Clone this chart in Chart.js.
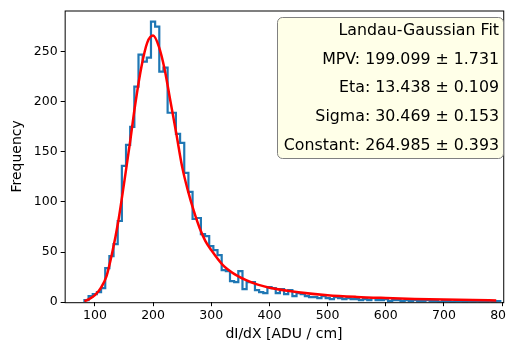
<!DOCTYPE html>
<html>
<head>
<meta charset="utf-8">
<script src="https://cdn.jsdelivr.net/npm/chart.js@4"></script>
<style>
    html, body { margin: 0; padding: 0; background: #fff; overflow: hidden; }
    #wrap { width: 516px; height: 343px; }
</style>
</head>
<body>
<div id="wrap"><canvas id="chart"></canvas></div>
<script>
// 히스토그램 데이터 (bin 시작, 폭, 개수)
const binStart = 82;
const binWidth = 7.15;
const counts = [
    2, 6, 8, 10, 14, 34, 46, 58, 81, 136,
    157, 175, 215, 247, 240, 244, 280, 275, 230, 234,
    189, 189, 168, 159, 129, 110, 83, 84, 68, 66,
    56, 52, 47, 32, 31, 21, 20, 31, 13, 20,
    20, 12, 10, 9, 15, 14, 9, 13, 8, 12,
    6, 9, 8, 6, 5, 5, 4, 6, 4, 3,
    5, 4, 3, 4, 3, 3, 2, 3, 2, 4,
    2, 2, 3, 1, 2, 2, 1, 2, 1, 2,
    1, 1, 2, 1, 1, 0, 1, 1, 0, 1,
    1, 0, 1, 0, 1, 0, 0, 1, 0, 1
];

// 피팅 곡선
const fitX = [82, 90, 100, 110, 120, 130, 140, 150, 160, 170, 180, 190, 200, 210, 220, 230, 240, 250, 260, 270,
    280, 290, 300, 320, 340, 360, 380, 400, 450, 500, 550, 600, 650, 700, 750, 790];
const fitY = [1, 3, 7, 14, 26, 50, 80, 118, 158, 200, 235, 259, 266, 255, 232, 200, 168, 135, 111, 91,
    74, 61, 52, 37, 28, 22, 17.5, 14.5, 10, 7, 5.3, 4.2, 3.3, 2.6, 2.1, 1.8];

// 축 눈금
const xTicks = [100, 200, 300, 400, 500, 600, 700, 800];
const yTicks = [0, 50, 100, 150, 200, 250];

// 박스 텍스트
const fitLines = [
    'Landau-Gaussian Fit',
    'MPV: 199.099 \u00b1 1.731',
    'Eta: 13.438 \u00b1 0.109',
    'Sigma: 30.469 \u00b1 0.153',
    'Constant: 264.985 \u00b1 0.393'
];

const FONT = 'DejaVu Sans';

// step 형태 점 만들기
const histPoints = [{ x: binStart, y: 0 }];
counts.forEach((c, i) => histPoints.push({ x: binStart + i * binWidth, y: c }));
histPoints.push({ x: binStart + counts.length * binWidth, y: counts[counts.length - 1] });
histPoints.push({ x: binStart + counts.length * binWidth, y: 0 });

const fitPoints = fitX.map((x, i) => ({ x: x, y: fitY[i] }));

// 테두리 + 텍스트 박스
const framePlugin = {
    id: 'frame',
    afterDraw(chart) {
        const ctx = chart.ctx;
        const a = chart.chartArea;
        ctx.save();
        ctx.strokeStyle = '#000';
        ctx.lineWidth = 1;
        ctx.strokeRect(a.left + 0.5, a.top + 0.5, a.right - a.left, a.bottom - a.top);

        const bx = 277, by = 17, bw = 226, bh = 141, r = 5;
        ctx.beginPath();
        ctx.roundRect(bx + 0.5, by + 0.5, bw, bh, r);
        ctx.fillStyle = 'rgba(255,255,228,0.85)';
        ctx.fill();
        ctx.strokeStyle = '#808080';
        ctx.stroke();

        ctx.fillStyle = '#000';
        ctx.font = '15.8px "' + FONT + '"';
        ctx.textAlign = 'right';
        ctx.textBaseline = 'middle';
        fitLines.forEach((t, i) => {
            ctx.fillText(t, 499, 31 + i * 28.6);
        });
        ctx.restore();
    }
};

new Chart(document.getElementById('chart'), {
    type: 'line',
    data: {
        datasets: [{
            data: fitPoints,
            borderColor: '#ff0000',
            borderWidth: 2.5,
            pointRadius: 0,
            cubicInterpolationMode: 'monotone',
            fill: false
        }, {
            data: histPoints,
            borderColor: '#1f77b4',
            borderWidth: 2.2,
            pointRadius: 0,
            stepped: 'before',
            fill: false
        }]
    },
    options: {
        responsive: true,
        maintainAspectRatio: false,
        animation: false,
        layout: { padding: { left: 9, top: 0, right: 0, bottom: 0 } },
        plugins: {
            legend: { display: false },
            tooltip: { enabled: false }
        },
        scales: {
            x: {
                type: 'linear',
                min: 48,
                max: 802,
                afterBuildTicks: axis => { axis.ticks = xTicks.map(v => ({ value: v })); },
                ticks: { color: '#000', font: { family: FONT, size: 12.5 }, padding: 2, maxRotation: 0 },
                grid: { drawOnChartArea: false, drawTicks: true, tickLength: 4, color: '#000' },
                border: { display: false },
                title: { display: true, text: 'dI/dX [ADU / cm]', color: '#000', font: { family: FONT, size: 14 }, padding: { top: 1, bottom: 0 } }
            },
            y: {
                type: 'linear',
                min: 0,
                max: 291,
                afterBuildTicks: axis => { axis.ticks = yTicks.map(v => ({ value: v })); },
                ticks: { color: '#000', font: { family: FONT, size: 12.5 }, padding: 3 },
                grid: { drawOnChartArea: false, drawTicks: true, tickLength: 4, color: '#000' },
                border: { display: false },
                title: { display: true, text: 'Frequency', color: '#000', font: { family: FONT, size: 14 }, padding: { top: 0, bottom: 5 } }
            }
        }
    },
    plugins: [framePlugin]
});
</script>
</body>
</html>
